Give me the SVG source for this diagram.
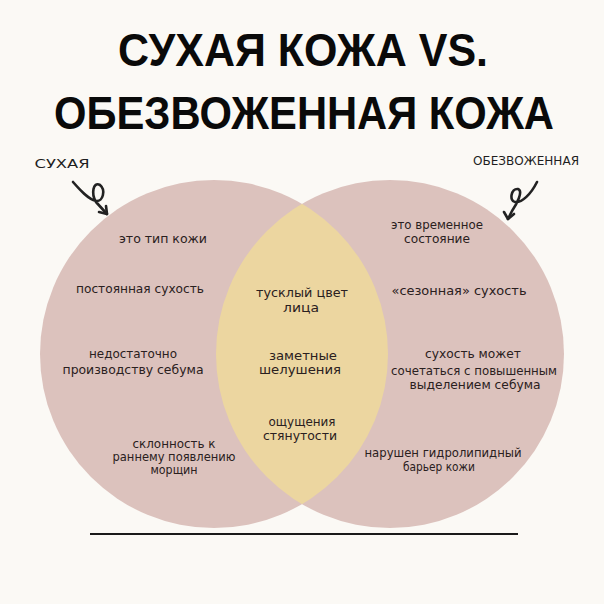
<svg xmlns="http://www.w3.org/2000/svg" width="604" height="604" viewBox="0 0 604 604">
<defs>
<style>
.title{font-family:"Liberation Sans",Arial,sans-serif;font-weight:bold;font-size:46px;fill:#0a0a0a;text-anchor:middle}
.lbl{font-family:"DejaVu Sans Condensed","Liberation Sans Narrow","Liberation Sans",sans-serif;font-size:13px;fill:#2a2020;text-anchor:middle}
.tight{font-size:11.5px}
.tag{font-family:"DejaVu Sans Condensed","Liberation Sans",sans-serif;font-size:12.5px;fill:#1e1e1e;text-anchor:middle}
.pink{fill:#dcc2bd}
.yellow{fill:#ecd6a0}
.squig{fill:none;stroke:#222;stroke-width:2.6;stroke-linecap:round;stroke-linejoin:round}
</style>
<clipPath id="clipL"><circle cx="214" cy="354" r="174"/></clipPath>
</defs>
<rect width="604" height="604" fill="#fbf9f5"/>
<g id="title">
<text class="title" x="303" y="66" textLength="370" lengthAdjust="spacingAndGlyphs">СУХАЯ КОЖА VS.</text>
<text class="title" x="304" y="129" textLength="500" lengthAdjust="spacingAndGlyphs">ОБЕЗВОЖЕННАЯ КОЖА</text>
</g>
<g id="circle-dry"><circle class="pink" cx="214" cy="354" r="174"/></g>
<g id="circle-dehydrated"><circle class="pink" cx="390" cy="354" r="174"/></g>
<g id="intersection"><circle class="yellow" cx="390" cy="354" r="174" clip-path="url(#clipL)"/></g>
<g id="connectors">
<path class="squig" d="M73,182 C80,190 88,199 96,201 C103,202 106,190 100,185 C93,181 91,194 96,202 L107,214"/>
<path class="squig" d="M99,212 L107,214 L106,206"/>
<path class="squig" d="M537,182 C531,194 522,203 515,202 C509,201 511,188 518,189 C524,191 516,205 512,211 L508,219"/>
<path class="squig" d="M504,212 L508,219 L514,214"/>
</g>
<g id="label-dry"><text class="tag" x="62" y="168" textLength="55" lengthAdjust="spacingAndGlyphs">СУХАЯ</text></g>
<g id="label-dehydrated"><text class="tag" x="526" y="165" textLength="106" lengthAdjust="spacingAndGlyphs">ОБЕЗВОЖЕННАЯ</text></g>
<g id="dry-1"><text class="lbl" x="163" y="243" textLength="88" lengthAdjust="spacingAndGlyphs">это тип кожи</text></g>
<g id="dry-2"><text class="lbl" x="140" y="293" textLength="128" lengthAdjust="spacingAndGlyphs">постоянная сухость</text></g>
<g id="dry-3">
<text class="lbl" x="133" y="358" textLength="88" lengthAdjust="spacingAndGlyphs">недостаточно</text>
<text class="lbl" x="133" y="374" textLength="141" lengthAdjust="spacingAndGlyphs">производству себума</text>
</g>
<g id="dry-4">
<text class="lbl tight" x="174" y="448" textLength="83" lengthAdjust="spacingAndGlyphs">склонность к</text>
<text class="lbl tight" x="174" y="461" textLength="123" lengthAdjust="spacingAndGlyphs">раннему появлению</text>
<text class="lbl tight" x="174" y="474" textLength="47" lengthAdjust="spacingAndGlyphs">морщин</text>
</g>
<g id="both-1">
<text class="lbl" x="302" y="297" textLength="92" lengthAdjust="spacingAndGlyphs">тусклый цвет</text>
<text class="lbl" x="301" y="312" textLength="36" lengthAdjust="spacingAndGlyphs">лица</text>
</g>
<g id="both-2">
<text class="lbl" x="303" y="360" textLength="68" lengthAdjust="spacingAndGlyphs">заметные</text>
<text class="lbl" x="300" y="374" textLength="82" lengthAdjust="spacingAndGlyphs">шелушения</text>
</g>
<g id="both-3">
<text class="lbl tight" x="302" y="426" textLength="67" lengthAdjust="spacingAndGlyphs">ощущения</text>
<text class="lbl tight" x="300" y="440" textLength="74" lengthAdjust="spacingAndGlyphs">стянутости</text>
</g>
<g id="dehyd-1">
<text class="lbl" x="437" y="229" textLength="92" lengthAdjust="spacingAndGlyphs">это временное</text>
<text class="lbl" x="437" y="243" textLength="66" lengthAdjust="spacingAndGlyphs">состояние</text>
</g>
<g id="dehyd-2"><text class="lbl" x="459" y="295" textLength="135" lengthAdjust="spacingAndGlyphs">«сезонная» сухость</text></g>
<g id="dehyd-3">
<text class="lbl" x="473" y="358" textLength="96" lengthAdjust="spacingAndGlyphs">сухость может</text>
<text class="lbl tight" x="474" y="375" textLength="166" lengthAdjust="spacingAndGlyphs">сочетаться с повышенным</text>
<text class="lbl tight" x="475" y="389" textLength="131" lengthAdjust="spacingAndGlyphs">выделением себума</text>
</g>
<g id="dehyd-4">
<text class="lbl tight" x="443" y="457" textLength="157" lengthAdjust="spacingAndGlyphs">нарушен гидролипидный</text>
<text class="lbl tight" x="439" y="471" textLength="72" lengthAdjust="spacingAndGlyphs">барьер кожи</text>
</g>
<g id="baseline-rule"><line x1="90" y1="534" x2="518" y2="534" stroke="#1a1a1a" stroke-width="2"/></g>
</svg>
